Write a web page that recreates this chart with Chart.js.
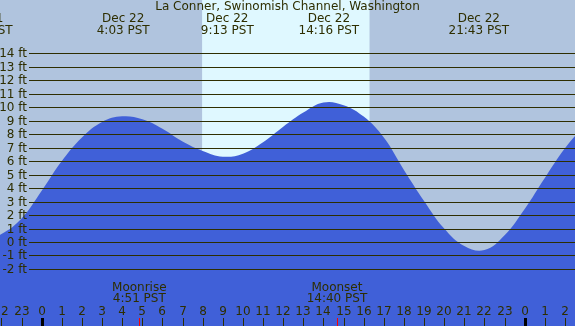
<!DOCTYPE html>
<html>
<head>
<meta charset="utf-8">
<script src="https://cdn.jsdelivr.net/npm/chart.js@4"></script>
<style>
  html, body { margin: 0; padding: 0; background: #b0c4de; }
  canvas { display: block; }
</style>
</head>
<body>
<canvas id="tideChart" width="575" height="326"></canvas>
<script>
// --- data ---
const title = 'La Conner, Swinomish Channel, Washington';

// tide height (ft) at each hour, hours counted from midnight Dec 22
const tideHours = [-3, -2, -1, 0, 1, 2, 3, 4, 5, 6, 7, 8, 9, 10, 11, 12, 13, 14, 15, 16, 17, 18, 19, 20, 21, 22, 23, 24, 25, 26, 27];
const tideFeet  = [0.1, 0.6, 1.75, 3.8, 6.0, 7.75, 8.9, 9.32, 9.1, 8.4, 7.45, 6.75, 6.33, 6.55, 7.4, 8.55, 9.6, 10.35, 10.15, 9.3, 7.75, 5.35, 3.05, 1.0, -0.3, -0.6, 0.5, 2.45, 4.75, 6.95, 8.7];

// high / low events shown at top
const eventHours = [-2.95, 4.05, 9.22, 14.27, 21.72];
const eventDates = ['Dec 21', 'Dec 22', 'Dec 22', 'Dec 22', 'Dec 22'];
const eventTimes = ['21:00 PST', '4:03 PST', '9:13 PST', '14:16 PST', '21:43 PST'];

// moon events shown at bottom
const moonHours = [4.85, 14.67];
const moonNames = ['Moonrise', 'Moonset'];
const moonTimes = ['4:51 PST', '14:40 PST'];

// daylight
const sunrise = 7.97;
const sunset = 16.29;

const feetLines = [-2, -1, 0, 1, 2, 3, 4, 5, 6, 7, 8, 9, 10, 11, 12, 13, 14];
const hourTicks = [-2, -1, 0, 1, 2, 3, 4, 5, 6, 7, 8, 9, 10, 11, 12, 13, 14, 15, 16, 17, 18, 19, 20, 21, 22, 23, 24, 25, 26];

const ink = '#2e2e00';
const font = '12px "DejaVu Sans"';

const tidePlugin = {
    id: 'tideDecor',
    beforeDatasetsDraw(chart) {
        const { ctx, chartArea: a, scales: { x } } = chart;
        ctx.save();
        ctx.fillStyle = '#b0c4de';
        ctx.fillRect(a.left, a.top, a.right - a.left, a.bottom - a.top);
        // day band
        const x1 = x.getPixelForValue(sunrise);
        const x2 = x.getPixelForValue(sunset);
        ctx.fillStyle = '#dff8ff';
        ctx.fillRect(x1, a.top, x2 - x1, a.bottom - a.top);
        ctx.restore();
    },
    afterDatasetsDraw(chart) {
        const { ctx, chartArea: a, scales: { x, y } } = chart;
        ctx.save();
        ctx.font = font;
        ctx.fillStyle = ink;

        // horizontal feet lines + labels
        ctx.strokeStyle = ink;
        ctx.lineWidth = 1;
        feetLines.forEach(f => {
            const py = Math.round(y.getPixelForValue(f)) + 0.5;
            ctx.beginPath();
            ctx.moveTo(29, py);
            ctx.lineTo(a.right, py);
            ctx.stroke();
            ctx.textAlign = 'right';
            ctx.textBaseline = 'middle';
            ctx.fillText(f + ' ft', 27, py);
        });

        // title
        ctx.textAlign = 'center';
        ctx.textBaseline = 'middle';
        ctx.fillText(title, (a.left + a.right) / 2, 7);

        // high / low labels
        eventHours.forEach((h, i) => {
            const px = x.getPixelForValue(h);
            ctx.fillText(eventDates[i], px, 19);
            ctx.fillText(eventTimes[i], px, 31);
        });

        // moon labels
        moonHours.forEach((h, i) => {
            const px = x.getPixelForValue(h);
            ctx.fillText(moonNames[i], px, 288);
            ctx.fillText(moonTimes[i], px, 299);
        });

        // hour ticks
        hourTicks.forEach(h => {
            const px = Math.round(x.getPixelForValue(h));
            const label = String(((h % 24) + 24) % 24);
            ctx.fillStyle = ink;
            ctx.fillText(label, px, 312);
            if (h % 24 === 0) {
                ctx.fillStyle = '#000000';
                ctx.fillRect(px - 1, 318, 3, 8);
            } else {
                ctx.fillStyle = ink;
                ctx.fillRect(px, 318, 1, 8);
            }
        });

        // moon ticks
        ctx.fillStyle = '#ff0000';
        moonHours.forEach(h => {
            const px = Math.round(x.getPixelForValue(h));
            ctx.fillRect(px, 318, 1, 8);
        });

        ctx.restore();
    }
};

new Chart(document.getElementById('tideChart').getContext('2d'), {
    type: 'line',
    data: {
        datasets: [{
            data: tideHours.map((h, i) => ({ x: h, y: tideFeet[i] })),
            borderColor: '#4060d8',
            borderWidth: 0,
            backgroundColor: '#4060d8',
            fill: 'start',
            pointRadius: 0,
            tension: 0.4
        }]
    },
    options: {
        responsive: false,
        animation: false,
        events: [],
        layout: { padding: 0 },
        plugins: { legend: { display: false }, tooltip: { enabled: false } },
        scales: {
            x: { type: 'linear', min: -2.072, max: 26.5, display: false },
            y: { type: 'linear', min: -6.23, max: 17.95, display: false }
        }
    },
    plugins: [tidePlugin]
});
</script>
</body>
</html>
